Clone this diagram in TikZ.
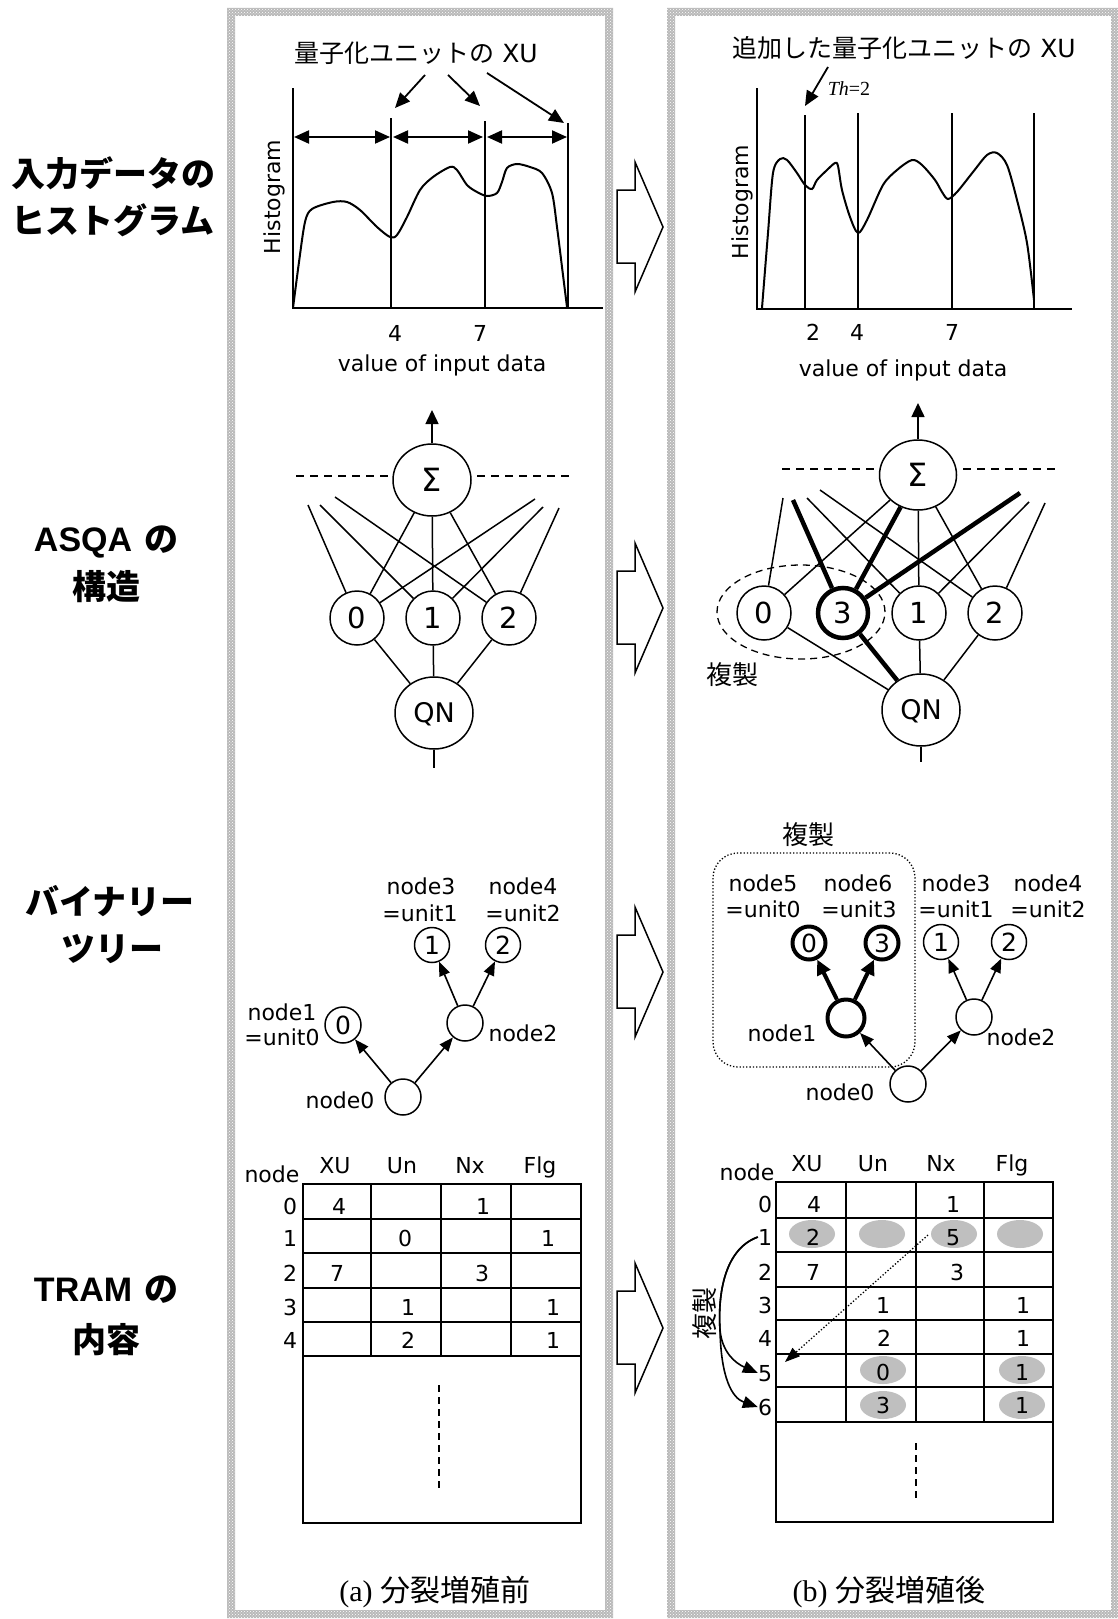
\documentclass[tikz,border=0pt]{standalone}
\usepackage{fontspec}
\setmainfont{DejaVu Sans}
\newfontfamily\jp{Noto Sans CJK JP}
\newfontfamily\lib{Liberation Sans}
\newfontfamily\tnr{Liberation Serif}
\usetikzlibrary{arrows.meta,patterns,shapes.geometric}
\newcommand\fsz[1]{\fontsize{#1}{#1}\selectfont}
\newcommand\bigarrowat[1]{\draw[line width=1.5pt,fill=white] (617,#1-37) -- (635,#1-37) -- (635,#1-65) -- (663,#1) -- (635,#1+65) -- (635,#1+36) -- (617,#1+36) -- cycle;}
\begin{document}
\begin{tikzpicture}[x=1pt,y=-1pt,
 lbl/.style={inner sep=0pt,text height=16pt,text depth=0pt,font=\fsz{22}},
 big/.style={inner sep=0pt,text height=19.5pt,text depth=0pt,font=\fsz{26}},
 side/.style={inner sep=0pt,text height=26pt,text depth=0pt,font=\fsz{34}\bfseries},
 hl/.style={line width=2pt},
 tipH/.style={line width=1.8pt,-{Triangle[length=15pt,width=13pt]}},
 dbl/.style={line width=2pt,{Triangle[length=15pt,width=13pt]}-{Triangle[length=15pt,width=13pt]}},
 ell/.style={draw,ellipse,minimum width=78pt,minimum height=72pt,inner sep=0pt,line width=1.5pt,font=\fsz{27},text height=19.5pt,text depth=0pt},
 sig/.style={ell,font=\fsz{32},text height=23pt},
 unit/.style={draw,circle,minimum size=54pt,inner sep=0pt,line width=1.5pt,font=\fsz{29},text height=21pt,text depth=0pt},
 net/.style={line width=1.5pt},
 thk/.style={line width=4.5pt},
 tnode/.style={draw,circle,minimum size=36pt,inner sep=0pt,line width=1.5pt,font=\fsz{25},text height=18pt,text depth=0pt},
 tthick/.style={tnode,line width=4pt,minimum size=33pt},
 tarr/.style={line width=1.6pt,-{Triangle[length=14pt,width=11pt]}},
 tarrk/.style={line width=4pt,-{Triangle[length=15pt,width=14pt]}},
 tl/.style={line width=1.5pt},
 tr/.style={line width=2.5pt},
 dsh/.style={line width=1.5pt,dash pattern=on 8pt off 6pt},
 shade/.style={fill=gray!50}
]
\useasboundingbox (0,0) rectangle (1118,1619);
\fill[white] (0,0) rectangle (1118,1619);
% panel borders
\fill[gray!55,even odd rule] (227,8) rectangle (613,1618) (235,16) rectangle (605,1610);
\fill[pattern=crosshatch dots,pattern color=white,even odd rule] (227,8) rectangle (613,1618) (235,16) rectangle (605,1610);
\fill[gray!55,even odd rule] (667,8) rectangle (1118,1618) (675,16) rectangle (1111,1610);
\fill[pattern=crosshatch dots,pattern color=white,even odd rule] (667,8) rectangle (1118,1618) (675,16) rectangle (1111,1610);
% side labels
\node[side] (sl1) at (113,173) {\jp 入力データの};
\node[side] (sl2) at (113,220) {\jp ヒストグラム};
\node[side] (sl3) at (106,538) {{\lib ASQA} {\jp の}};
\node[side] (sl4) at (106,586) {\jp 構造};
\node[side] (sl5) at (110,901) {\jp バイナリー};
\node[side] (sl6) at (112,948) {\jp ツリー};
\node[side] (sl7) at (106,1288) {{\lib TRAM} {\jp の}};
\node[side] (sl8) at (106,1339) {\jp 内容};
% block arrows
\bigarrowat{227}
\bigarrowat{608}
\bigarrowat{972}
\bigarrowat{1328}
% ---------- left histogram
\draw[hl] (293,88) -- (293,308) -- (603,308);
\draw[hl] (391,118) -- (391,308);
\draw[hl] (485,121) -- (485,308);
\draw[hl] (568,123) -- (568,308);
\draw[dbl] (294,137) -- (390,137);
\draw[dbl] (393,137) -- (483,137);
\draw[dbl] (487,137) -- (567,137);
\node[big,font=\fsz{25},text height=19pt] (ht1) at (416,53) {{\jp 量子化ユニットの} XU};
\coordinate (a1s) at (425,75); \coordinate (a1e) at (395,108);
\coordinate (a2s) at (448,75); \coordinate (a2e) at (480,106);
\coordinate (a3s) at (487,73); \coordinate (a3e) at (564,123);
\draw[tipH] (a1s) -- (a1e);
\draw[tipH] (a2s) -- (a2e);
\draw[tipH] (a3s) -- (a3e);
\draw[hl] plot[smooth,tension=0.5] coordinates {(293,308) (299,262) (305,222) (312,209) (333,202) (347,202) (360,210) (377,227) (390,237) (397,235) (407,217) (420,190) (433,177) (450,167) (457,170) (467,185) (477,192) (487,196) (497,193) (502,182) (507,168) (517,164) (530,167) (542,173) (552,193) (557,227) (562,267) (567,307)};
\node[lbl,rotate=90] (hy1) at (272,197) {Histogram};
\node[lbl] (hx14) at (395,333) {4};
\node[lbl] (hx17) at (480,333) {7};
\node[lbl] (hv1) at (442,363) {value of input data};
% ---------- right histogram
\draw[hl] (757,88) -- (757,309) -- (1072,309);
\draw[hl] (805,115) -- (805,309);
\draw[hl] (858,113) -- (858,309);
\draw[hl] (952,113) -- (952,309);
\draw[hl] (1034,113) -- (1034,309);
\node[big,font=\fsz{25},text height=19pt] (ht2) at (904,48) {{\jp 追加した量子化ユニットの} XU};
\coordinate (a4s) at (828,67); \coordinate (a4e) at (805,106);
\draw[tipH] (a4s) -- (a4e);
\node[inner sep=0pt,font=\fsz{20},text height=14pt,text depth=0pt] (th) at (849,88) {{\tnr\itshape Th}{\tnr =2}};
\draw[hl] plot[smooth,tension=0.5] coordinates {(762,308) (768,233) (773,173) (780,159) (787,160) (797,173) (805,185) (812,189) (817,180) (827,170) (835,163) (838,166) (842,190) (850,217) (858,233) (867,220) (883,185) (897,170) (912,160) (922,165) (935,180) (942,192) (948,199) (957,192) (973,172) (987,155) (997,153) (1007,165) (1017,200) (1027,243) (1034,300)};
\node[lbl,rotate=90] (hy2) at (740,202) {Histogram};
\node[lbl] (hx22) at (813,332) {2};
\node[lbl] (hx24) at (857,332) {4};
\node[lbl] (hx27) at (952,332) {7};
\node[lbl] (hv2) at (903,368) {value of input data};
% ---------- left ASQA
\node[sig] (s1) at (432,480) {Σ};
\coordinate (so1) at (432,410);
\draw[net,-{Triangle[length=14pt,width=13pt]}] (s1) -- (so1);
\coordinate (d1a) at (296,476); \coordinate (d1b) at (390,476);
\coordinate (d1c) at (477,476); \coordinate (d1d) at (570,476);
\draw[dsh] (d1a) -- (d1b);
\draw[dsh] (d1c) -- (d1d);
\node[unit] (u0) at (357,618) {0};
\node[unit] (u1) at (433,618) {1};
\node[unit] (u2) at (509,618) {2};
\node[ell] (q1) at (434,713) {QN};
\coordinate (l0) at (308,505); \coordinate (l1) at (320,505); \coordinate (l2) at (335,497);
\coordinate (r0) at (535,499); \coordinate (r1) at (543,507); \coordinate (r2) at (559,508);
\draw[net] (u0) -- (l0);
\draw[net] (u0) -- (s1);
\draw[net] (u0) -- (r0);
\draw[net] (u1) -- (l1);
\draw[net] (u1) -- (s1);
\draw[net] (u1) -- (r1);
\draw[net] (u2) -- (l2);
\draw[net] (u2) -- (s1);
\draw[net] (u2) -- (r2);
\draw[net] (u0) -- (q1);
\draw[net] (u1) -- (q1);
\draw[net] (u2) -- (q1);
\coordinate (qb1) at (434,768);
\draw[net] (q1) -- (qb1);
% ---------- right ASQA
\node[sig,minimum width=77pt,minimum height=70pt] (s2) at (918,475) {Σ};
\coordinate (so2) at (918,403);
\draw[net,-{Triangle[length=14pt,width=13pt]}] (s2) -- (so2);
\coordinate (d2a) at (782,469); \coordinate (d2b) at (878,469);
\coordinate (d2c) at (963,469); \coordinate (d2d) at (1057,469);
\draw[dsh] (d2a) -- (d2b);
\draw[dsh] (d2c) -- (d2d);
\node[unit] (v0) at (764,613) {0};
\node[unit,line width=4.5pt,minimum size=50pt] (v3) at (843,613) {3};
\node[unit] (v1) at (919,613) {1};
\node[unit] (v2) at (995,613) {2};
\node[ell] (q2) at (921,710) {QN};
\node[draw,ellipse,dash pattern=on 7pt off 5pt,line width=1.3pt,minimum width=168pt,minimum height=94pt] (dup1) at (801,612) {};
\node[big] (dupt1) at (732,675) {\jp 複製};
\coordinate (m0) at (783,498); \coordinate (m3) at (793,500); \coordinate (m1) at (807,498); \coordinate (m2) at (820,490);
\coordinate (n3) at (1020,493); \coordinate (n1) at (1029,502); \coordinate (n2) at (1045,503);
\draw[net] (v0) -- (m0);
\draw[net] (v0) -- (s2);
\draw[net] (v0) -- (q2);
\draw[net] (v1) -- (m1);
\draw[net] (v1) -- (s2);
\draw[net] (v1) -- (n1);
\draw[net] (v1) -- (q2);
\draw[net] (v2) -- (m2);
\draw[net] (v2) -- (s2);
\draw[net] (v2) -- (n2);
\draw[net] (v2) -- (q2);
\draw[thk] (v3) -- (m3);
\draw[thk] (v3) -- (s2);
\draw[thk] (v3) -- (n3);
\draw[thk] (v3) -- (q2);
\coordinate (qb2) at (921,762);
\draw[net] (q2) -- (qb2);
% ---------- left tree
\node[tnode] (t0) at (403,1097) {};
\node[tnode] (t1) at (343,1025) {0};
\node[tnode] (t2) at (465,1023) {};
\node[tnode,minimum size=35pt] (t3) at (432,945) {1};
\node[tnode,minimum size=35pt] (t4) at (503,945) {2};
\draw[tarr] (t0) -- (t1);
\draw[tarr] (t0) -- (t2);
\draw[tarr] (t2) -- (t3);
\draw[tarr] (t2) -- (t4);
\node[lbl] (tl1a) at (282,1012) {node1};
\node[lbl] (tl1b) at (282,1037) {=unit0};
\node[lbl] (tl0) at (340,1100) {node0};
\node[lbl] (tl2) at (523,1033) {node2};
\node[lbl] (tl3a) at (421,886) {node3};
\node[lbl] (tl3b) at (420,913) {=unit1};
\node[lbl] (tl4a) at (523,886) {node4};
\node[lbl] (tl4b) at (523,913) {=unit2};
% ---------- right tree
\node[draw,dotted,line width=1.3pt,rounded corners=25pt,minimum width=202pt,minimum height=214pt] (dupbox) at (814,960) {};
\node[big] (dupt2) at (808,835) {\jp 複製};
\node[tnode] (w0) at (908,1084) {};
\node[tthick,minimum size=37pt] (w1) at (846,1018) {};
\node[tnode] (w2) at (974,1017) {};
\node[tthick] (w5) at (809,943) {0};
\node[tthick] (w6) at (882,943) {3};
\node[tnode,minimum size=35pt] (w3) at (941,942) {1};
\node[tnode,minimum size=35pt] (w4) at (1009,942) {2};
\draw[tarr] (w0) -- (w1);
\draw[tarr] (w0) -- (w2);
\draw[tarr] (w2) -- (w3);
\draw[tarr] (w2) -- (w4);
\draw[tarrk] (w1) -- (w5);
\draw[tarrk] (w1) -- (w6);
\node[lbl] (wl5a) at (763,883) {node5};
\node[lbl] (wl5b) at (763,909) {=unit0};
\node[lbl] (wl6a) at (858,883) {node6};
\node[lbl] (wl6b) at (859,909) {=unit3};
\node[lbl] (wl3a) at (956,883) {node3};
\node[lbl] (wl3b) at (956,909) {=unit1};
\node[lbl] (wl4a) at (1048,883) {node4};
\node[lbl] (wl4b) at (1048,909) {=unit2};
\node[lbl] (wl1) at (782,1033) {node1};
\node[lbl] (wl2) at (1021,1037) {node2};
\node[lbl] (wl0) at (840,1092) {node0};
% ---------- left table
\draw[tl] (303,1184) rectangle (581,1523);
\foreach \yy in {1219,1253,1288,1322,1356} \draw[tl] (303,\yy) -- (581,\yy);
\foreach \xx in {371,441,511} \draw[line width=2pt] (\xx,1184) -- (\xx,1356);
\node[lbl] (lh0) at (272,1174) {node};
\node[lbl] (lh1) at (335,1165) {XU};
\node[lbl] (lh2) at (402,1165) {Un};
\node[lbl] (lh3) at (470,1165) {Nx};
\node[lbl] (lh4) at (540,1165) {Flg};
\node[lbl] (lr0) at (290,1206) {0};
\node[lbl] (lr1) at (290,1238) {1};
\node[lbl] (lr2) at (290,1273) {2};
\node[lbl] (lr3) at (290,1307) {3};
\node[lbl] (lr4) at (290,1340) {4};
\node[lbl] (lc01) at (339,1206) {4};
\node[lbl] (lc03) at (483,1206) {1};
\node[lbl] (lc12) at (405,1238) {0};
\node[lbl] (lc14) at (548,1238) {1};
\node[lbl] (lc21) at (337,1273) {7};
\node[lbl] (lc23) at (482,1273) {3};
\node[lbl] (lc32) at (408,1307) {1};
\node[lbl] (lc34) at (553,1307) {1};
\node[lbl] (lc42) at (408,1340) {2};
\node[lbl] (lc44) at (553,1340) {1};
\coordinate (lda) at (439,1385); \coordinate (ldb) at (439,1490);
\draw[line width=1.5pt,dash pattern=on 7pt off 5pt] (lda) -- (ldb);
\node[inner sep=0pt,font=\fsz{30},text height=22pt,text depth=0pt] (capa) at (435,1590) {{\tnr (a)}\hspace{8pt}{\jp 分裂増殖前}};
% ---------- right table
\fill[shade] (812,1234) ellipse [x radius=23pt,y radius=14pt];
\fill[shade] (882,1234) ellipse [x radius=23pt,y radius=14pt];
\fill[shade] (954,1234) ellipse [x radius=23pt,y radius=14pt];
\fill[shade] (1020,1234) ellipse [x radius=23pt,y radius=14pt];
\fill[shade] (883,1370) ellipse [x radius=23pt,y radius=14pt];
\fill[shade] (1022,1370) ellipse [x radius=23pt,y radius=14pt];
\fill[shade] (883,1405) ellipse [x radius=23pt,y radius=14pt];
\fill[shade] (1022,1405) ellipse [x radius=23pt,y radius=14pt];
\draw[tr] (776,1182) rectangle (1053,1522);
\foreach \yy in {1218,1252,1287,1320,1354,1387,1422} \draw[tr] (776,\yy) -- (1053,\yy);
\foreach \xx in {846,916,984} \draw[tr] (\xx,1182) -- (\xx,1422);
\node[lbl] (rh0) at (747,1172) {node};
\node[lbl] (rh1) at (807,1163) {XU};
\node[lbl] (rh2) at (873,1163) {Un};
\node[lbl] (rh3) at (941,1163) {Nx};
\node[lbl] (rh4) at (1012,1163) {Flg};
\node[lbl] (rr0) at (765,1204) {0};
\node[lbl] (rr1) at (765,1237) {1};
\node[lbl] (rr2) at (765,1272) {2};
\node[lbl] (rr3) at (765,1305) {3};
\node[lbl] (rr4) at (765,1338) {4};
\node[lbl] (rr5) at (765,1373) {5};
\node[lbl] (rr6) at (765,1407) {6};
\node[lbl] (rc01) at (814,1204) {4};
\node[lbl] (rc03) at (953,1204) {1};
\node[lbl] (rc11) at (813,1237) {2};
\node[lbl] (rc13) at (953,1237) {5};
\node[lbl] (rc21) at (813,1272) {7};
\node[lbl] (rc23) at (957,1272) {3};
\node[lbl] (rc32) at (883,1305) {1};
\node[lbl] (rc34) at (1023,1305) {1};
\node[lbl] (rc42) at (884,1338) {2};
\node[lbl] (rc44) at (1023,1338) {1};
\node[lbl] (rc52) at (883,1372) {0};
\node[lbl] (rc54) at (1022,1372) {1};
\node[lbl] (rc62) at (883,1405) {3};
\node[lbl] (rc64) at (1022,1405) {1};
\coordinate (rda) at (916,1443); \coordinate (rdb) at (916,1502);
\draw[line width=1.5pt,dash pattern=on 7pt off 5pt] (rda) -- (rdb);
\coordinate (ds) at (928,1235); \coordinate (de) at (785,1362);
\draw[line width=1.3pt,dotted,-{Triangle[length=15pt,width=11pt]}] (ds) -- (de);
\draw[line width=1.6pt,-{Triangle[length=15pt,width=12pt]}] (rr1.west) .. controls (722,1250) and (718,1300) .. (720,1330) .. controls (722,1352) and (735,1363) .. (rr5.west);
\draw[line width=1.6pt,-{Triangle[length=15pt,width=12pt]}] (rr1.west) .. controls (722,1250) and (718,1300) .. (720,1330) .. controls (721,1378) and (732,1398) .. (rr6.west);
\node[big,rotate=90] (dupt3) at (705,1313) {\jp 複製};
\node[inner sep=0pt,font=\fsz{30},text height=22pt,text depth=0pt] (capb) at (889,1590) {{\tnr (b)}\hspace{8pt}{\jp 分裂増殖後}};
\end{tikzpicture}
\end{document}
